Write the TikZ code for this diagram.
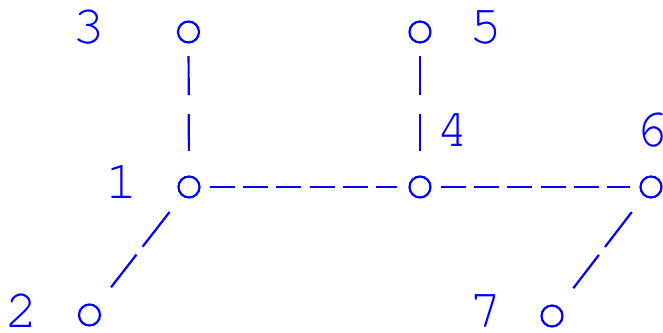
\documentclass[tikz,border=0pt]{standalone}
\usepackage{fontspec}
\setmonofont{TeX Gyre Cursor}
\usetikzlibrary{positioning}

\begin{document}
\begin{tikzpicture}[
    x=0.02cm, y=-0.02cm,
    vertex/.style={
        circle,
        draw=blue,
        line width=0.044cm,
        minimum size=0.42cm,
        inner sep=0pt
    },
    numlabel/.style={
        anchor=base,
        inner sep=0pt,
        text=blue,
        font=\ttfamily\fontsize{31}{31}\selectfont
    },
    straightedge/.style={
        blue,
        line width=0.044cm,
        dash pattern=on 0.5cm off 0.164cm
    },
    uprightedge/.style={
        blue,
        line width=0.044cm,
        dash pattern=on 0.78cm off 0.38cm,
        shorten <=0.25cm,
        shorten >=0.49cm
    },
    slantedge/.style={
        blue,
        line width=0.044cm,
        dash pattern=on 0.88cm off 0.2cm,
        shorten <=0.4cm,
        shorten >=0.47cm
    }
]
\useasboundingbox (0,0) rectangle (663,332);
% Vertices
\node[vertex] at (189,187) (v1) {};
\node[vertex] at (89.5,315) (v2) {};
\node[vertex] at (188.5,32) (v3) {};
\node[vertex] at (420,187) (v4) {};
\node[vertex] at (420,32) (v5) {};
\node[vertex] at (651,187) (v6) {};
\node[vertex] at (552,316) (v7) {};
% Numbers
\node[numlabel] at (122,198) (n1) {1};
\node[numlabel] at (22,327) (n2) {2};
\node[numlabel] at (89,43) (n3) {3};
\node[numlabel] at (453,146) (n4) {4};
\node[numlabel] at (486,43) (n5) {5};
\node[numlabel] at (652,146) (n6) {6};
\node[numlabel] at (486,327) (n7) {7};
% Edges
\draw[straightedge, shorten <=0.19cm, shorten >=0.23cm] (v1) -- (v4);
\draw[straightedge, shorten <=0.19cm, shorten >=0.19cm] (v4) -- (v6);
\draw[uprightedge] (v3) -- (v1);
\draw[uprightedge] (v5) -- (v4);
\draw[slantedge] (v1) -- (v2);
\draw[slantedge] (v6) -- (v7);
\end{tikzpicture}
\end{document}
